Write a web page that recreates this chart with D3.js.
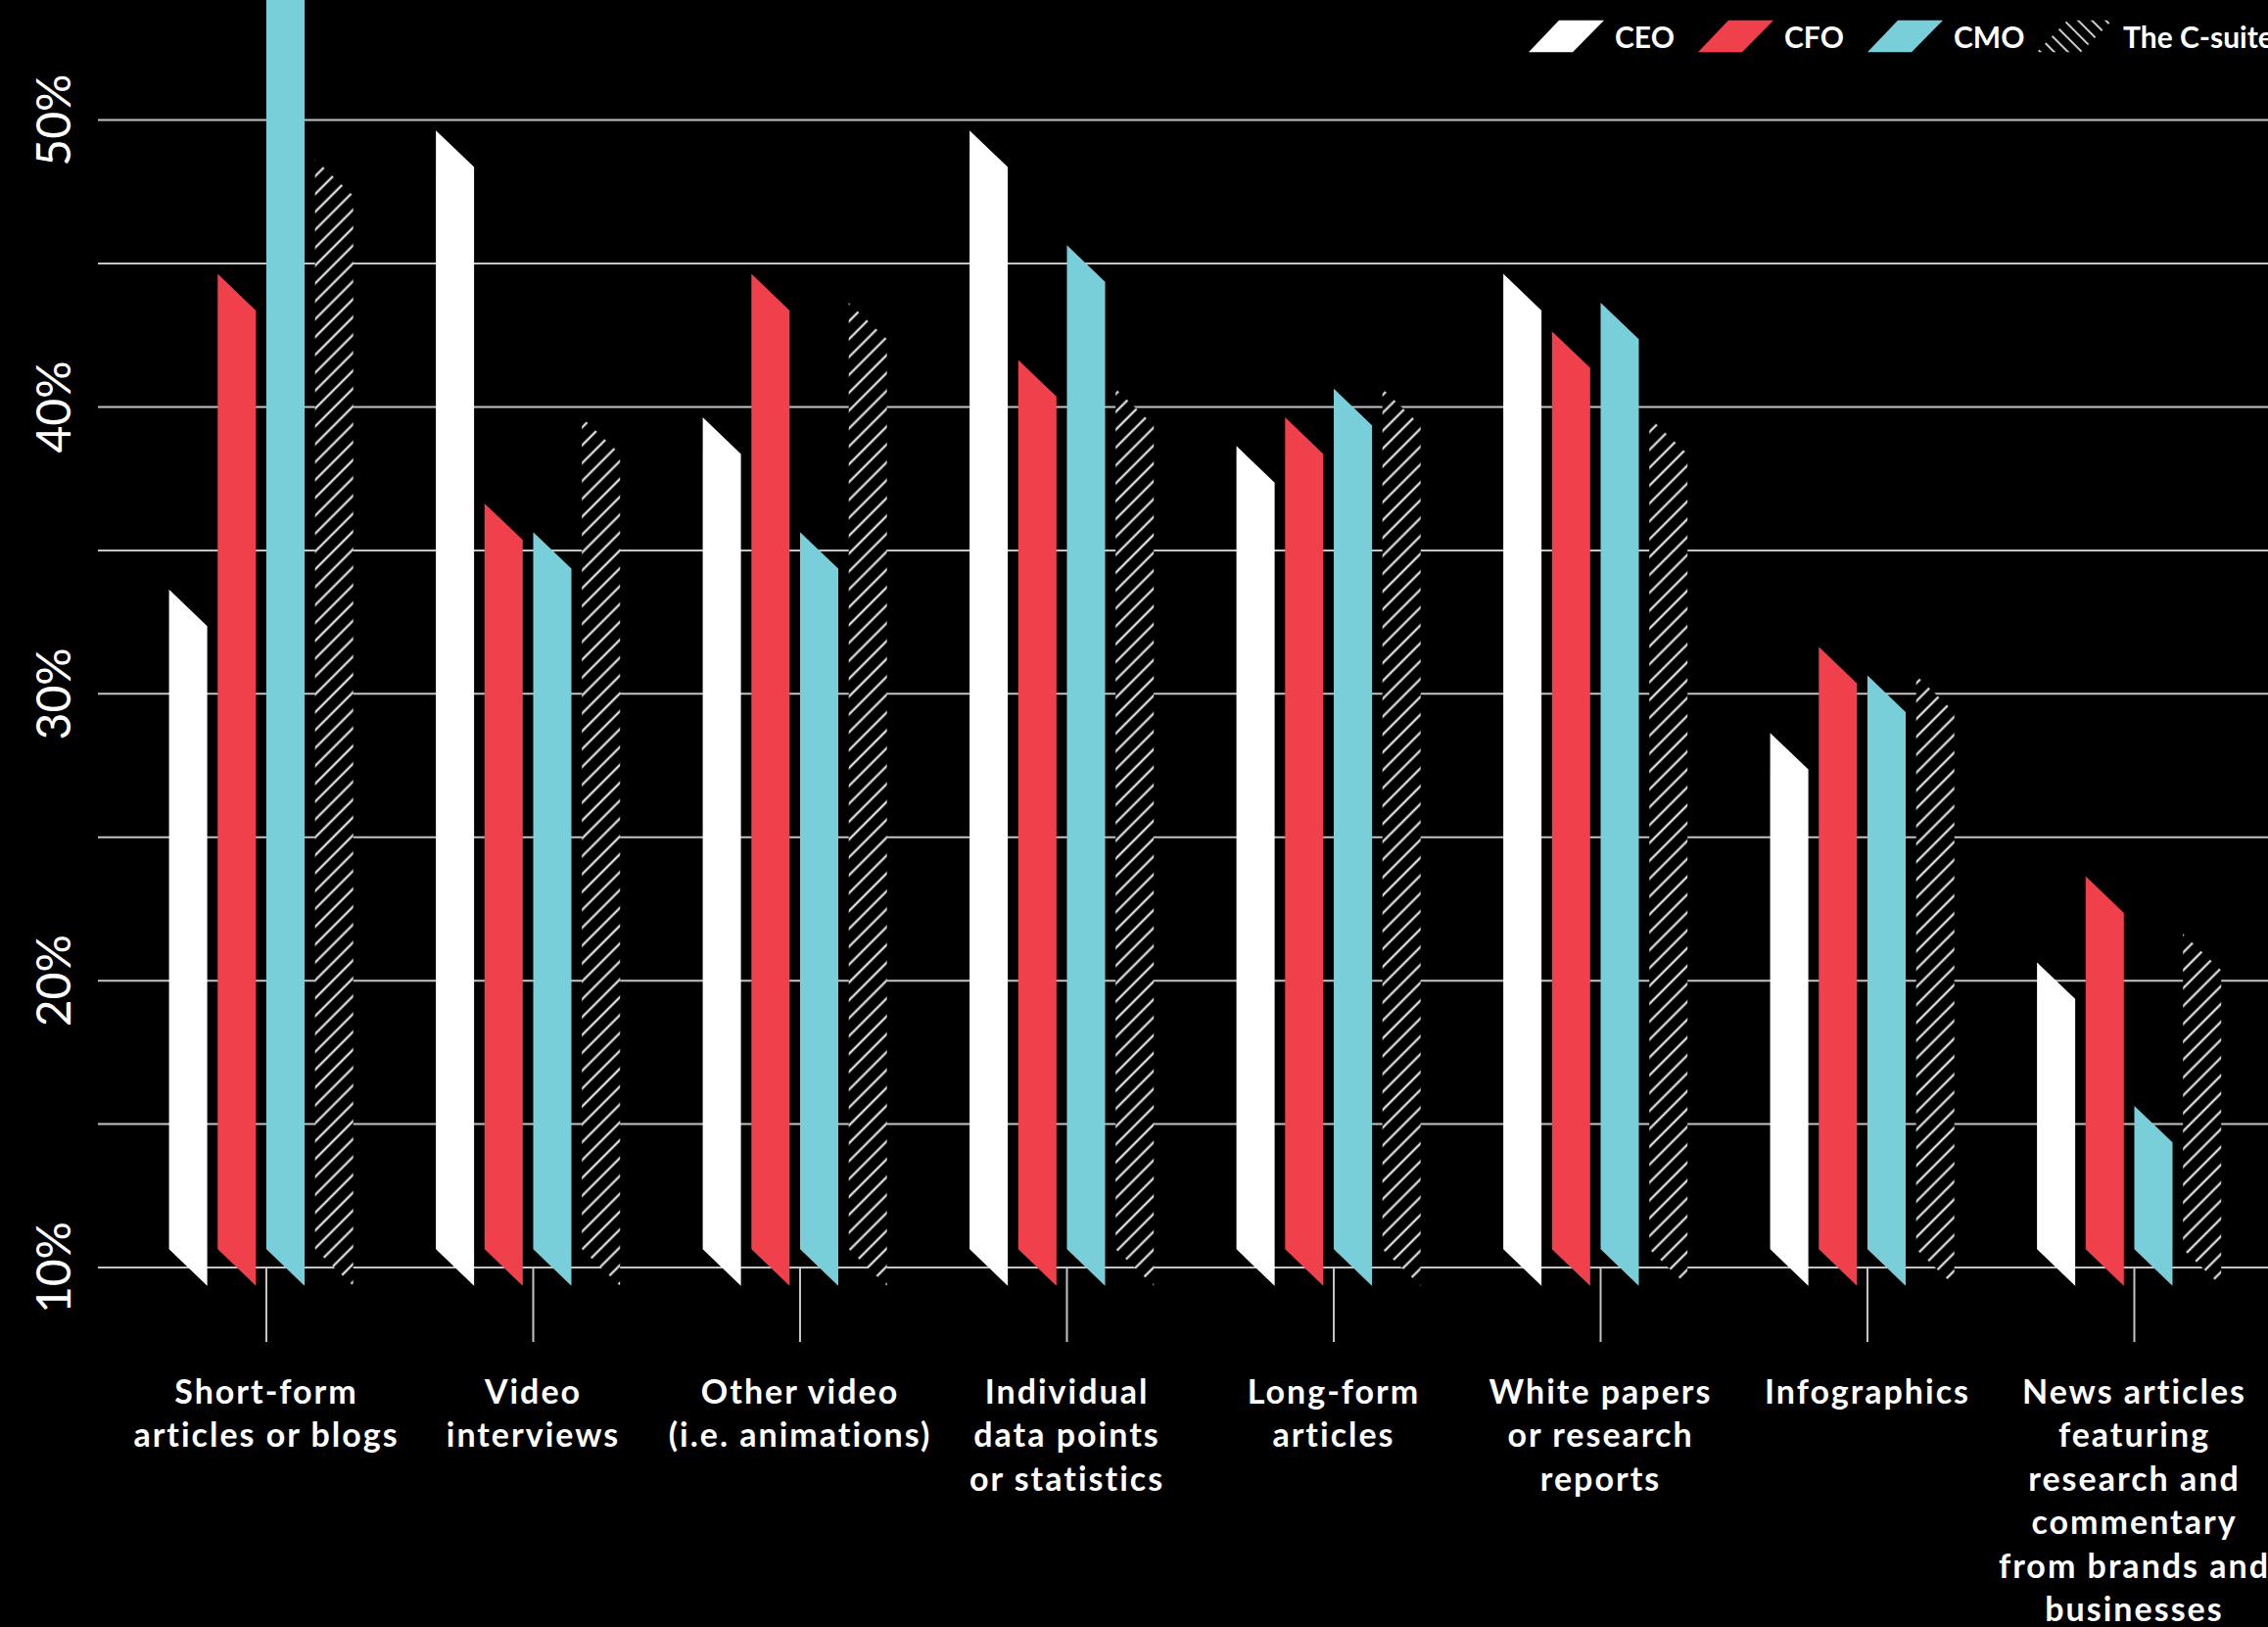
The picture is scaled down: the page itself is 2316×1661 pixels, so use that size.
<!DOCTYPE html>
<html>
<head>
<meta charset="utf-8">
<script src="https://cdn.jsdelivr.net/npm/d3@7"></script>
<style>
  html, body { margin: 0; padding: 0; background: #000; }
  svg { display: block; }
</style>
</head>
<body>
<svg id="chart" width="2316" height="1661"></svg>
<script>
// ---------- DATA ----------
const categories = [
  "Short-form articles or blogs",
  "Video interviews",
  "Other video (i.e. animations)",
  "Individual data points or statistics",
  "Long-form articles",
  "White papers or research reports",
  "Infographics",
  "News articles featuring research and commentary from brands and businesses"
];
const categoryLines = [
  ["Short-form", "articles or blogs"],
  ["Video", "interviews"],
  ["Other video", "(i.e. animations)"],
  ["Individual", "data points", "or statistics"],
  ["Long-form", "articles"],
  ["White papers", "or research", "reports"],
  ["Infographics"],
  ["News articles", "featuring", "research and", "commentary", "from brands and", "businesses"]
];
const series = ["CEO", "CFO", "CMO", "The C-suite"];
const ceoValues    = [33, 49, 39, 49, 38, 44, 28, 20];
const cfoValues    = [44, 36, 44, 41, 39, 42, 31, 23];
const cmoValues    = [57, 35, 35, 45, 40, 43, 30, 15];
const csuiteValues = [48, 39, 43, 40, 40, 39, 30, 21];
const gridTicks  = [10, 15, 20, 25, 30, 35, 40, 45, 50];
const labelTicks = [10, 20, 30, 40, 50];
const seriesColors = ["#ffffff", "#ef404b", "#79cfd9", "url(#hatch)"];

// ---------- LAYOUT ----------
const W = 2316, H = 1661;
const svg = d3.select("#chart");
const valuesBySeries = [ceoValues, cfoValues, cmoValues, csuiteValues];

const y = d3.scaleLinear().domain([10, 50]).range([1294, 122.6]);
const x = d3.scalePoint().domain(categories).range([272, 2179.5]);
const step = 49.7, pad = 0.215;
const xInner = d3.scaleBand().domain(series)
  .range([-2 * step - step * pad / 2, 2 * step - step * pad / 2])
  .paddingInner(pad).paddingOuter(pad / 2);
const bw = xInner.bandwidth();
const slant = 18.7;

const defs = svg.append("defs");
const pat = defs.append("pattern").attr("id", "hatch")
  .attr("patternUnits", "userSpaceOnUse")
  .attr("width", 12.9).attr("height", 12.9)
  .attr("patternTransform", "rotate(-45)");
pat.append("rect").attr("width", 12.9).attr("height", 12.9).attr("fill", "#000");
pat.append("line").attr("x1", -1).attr("x2", 14).attr("y1", 6.45).attr("y2", 6.45)
  .attr("stroke", "#fff").attr("stroke-width", 2);

const pat2 = defs.append("pattern").attr("id", "hatchLegend")
  .attr("patternUnits", "userSpaceOnUse")
  .attr("width", 10).attr("height", 10)
  .attr("patternTransform", "rotate(45)");
pat2.append("rect").attr("width", 10).attr("height", 10).attr("fill", "#000");
pat2.append("line").attr("x1", -1).attr("x2", 11).attr("y1", 5).attr("y2", 5)
  .attr("stroke", "#fff").attr("stroke-width", 1.6);

// gridlines
svg.append("g").selectAll("line").data(gridTicks).join("line")
  .attr("x1", 100).attr("x2", W)
  .attr("y1", d => y(d)).attr("y2", d => y(d))
  .attr("stroke", "#c4c4c4").attr("stroke-width", 2);

// y labels
svg.append("g").selectAll("text").data(labelTicks).join("text")
  .attr("transform", d => `translate(72,${y(d)}) rotate(-90)`)
  .attr("text-anchor", "middle")
  .attr("font-family", "Lato, sans-serif")
  .attr("font-weight", 400)
  .attr("font-size", 48)
  .attr("fill", "#fff")
  .text(d => d + "%");

// bars
const barData = [];
categories.forEach((c, ci) => {
  series.forEach((s, si) => {
    barData.push({ cat: c, s, si, v: valuesBySeries[si][ci] });
  });
});
const base = y(10);
svg.append("g").selectAll("path").data(barData).join("path")
  .attr("d", d => {
    const x0 = x(d.cat) + xInner(d.s), x1 = x0 + bw;
    const yt = y(d.v);
    return `M${x0},${yt - slant}L${x1},${yt + slant}L${x1},${base + slant}L${x0},${base - slant}Z`;
  })
  .attr("fill", d => seriesColors[d.si]);

// ticks
svg.append("g").selectAll("line").data(categories).join("line")
  .attr("x1", d => x(d)).attr("x2", d => x(d))
  .attr("y1", base).attr("y2", 1370)
  .attr("stroke", "#c4c4c4").attr("stroke-width", 2);

// category labels
const lab = svg.append("g").selectAll("text").data(categories).join("text")
  .attr("x", d => x(d))
  .attr("y", 1432.7)
  .attr("text-anchor", "middle")
  .attr("font-family", "Lato, sans-serif")
  .attr("font-weight", 700)
  .attr("font-size", 34)
  .attr("letter-spacing", 2)
  .attr("fill", "#fff");
lab.each(function(d, i) {
  d3.select(this).selectAll("tspan").data(categoryLines[i]).join("tspan")
    .attr("x", x(d))
    .attr("dy", (t, j) => j === 0 ? 0 : 44.5)
    .text(t => t);
});

// legend
const lx = d3.scalePoint().domain(series).range([1561, 2080]);
const lg = svg.append("g").selectAll("g").data(series).join("g")
  .attr("transform", d => `translate(${lx(d)},0)`);
lg.append("path")
  .attr("d", "M0,53.3L31,20.7L77,20.7L45,53.3Z")
  .attr("fill", (d, i) => i === 3 ? "url(#hatchLegend)" : seriesColors[i]);
lg.append("text")
  .attr("x", 88).attr("y", 48.5)
  .attr("font-family", "Lato, sans-serif")
  .attr("font-weight", 700)
  .attr("font-size", 30)
  .attr("fill", "#fff")
  .text(d => d);
</script>
</body>
</html>
